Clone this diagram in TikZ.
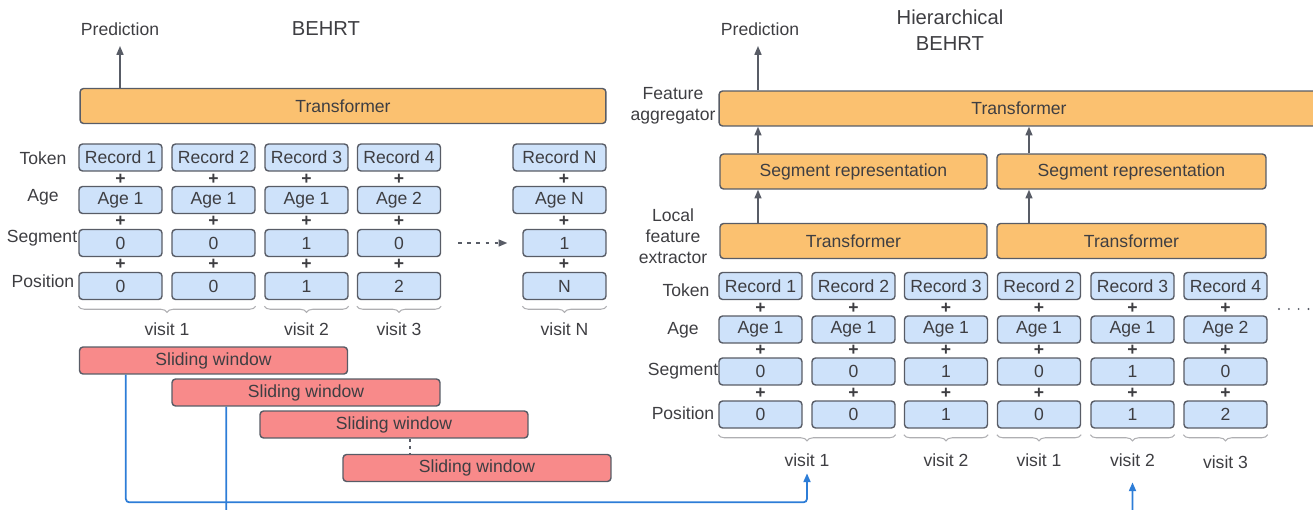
\documentclass[tikz,border=0pt]{standalone}
\usepackage{fontspec}
\setmainfont{Liberation Sans}
\usetikzlibrary{arrows.meta,calc,decorations.pathreplacing}

\definecolor{boxline}{RGB}{88,92,102}
\definecolor{tfill}{RGB}{251,193,112}
\definecolor{recfill}{RGB}{206,226,250}
\definecolor{winfill}{RGB}{248,138,138}
\definecolor{linkblue}{RGB}{45,125,215}
\definecolor{txt}{RGB}{62,62,66}
\definecolor{bracegray}{RGB}{175,175,178}

\tikzset{
  tbox/.style={draw=boxline, fill=tfill, rounded corners=2pt, line width=0.8pt, minimum height=0.7cm, inner sep=0pt},
  rec/.style={draw=boxline, fill=recfill, rounded corners=2pt, line width=0.8pt, minimum width=1.66cm, minimum height=0.54cm, inner sep=0pt},
  win/.style={draw=boxline, fill=winfill, rounded corners=2pt, line width=0.8pt, minimum width=5.36cm, minimum height=0.54cm, inner sep=0pt},
  arr/.style={-{Triangle[length=5pt,width=4pt]}, draw=boxline, line width=0.8pt},
  bluelink/.style={-{Triangle[length=5pt,width=4pt]}, draw=linkblue, line width=1pt, rounded corners=2pt},
  visitbrace/.style={draw=bracegray, line width=0.6pt, decorate, decoration={brace, mirror, amplitude=3.5pt}},
  plus/.style={inner sep=0pt, font=\fontsize{10}{12}\selectfont\bfseries},
  titlefont/.style={font=\fontsize{11.5}{14.7}\selectfont}
}

\begin{document}
\begin{tikzpicture}[x=0.02cm, y=-0.02cm, font=\fontsize{10}{12}\selectfont, text=txt]
\useasboundingbox (0,0) rectangle (1313,510);
\clip (0,0) rectangle (1313,510);

% BEHRT
\node (lpred) at (120,29) {Prediction};
\node[titlefont] (ltitle) at (326,29) {BEHRT};
\node[tbox, minimum width=10.52cm] (ltrans) at (343,106) {Transformer};
\coordinate (lpredtip) at (120,46);
\draw[arr] (ltrans.north -| lpredtip) -- (lpredtip);

\node (ltok) at (43,158) {Token};
\node (lage) at (43,197) {Age};
\node (lseg) at (42,238) {Segment};
\node (lpos) at (43,281) {Position};

\foreach \n/\x/\rec/\age/\seg/\pos in {1/120.5/Record 1/Age 1/0/0, 2/213.5/Record 2/Age 1/0/0,
    3/306.5/Record 3/Age 1/1/1, 4/399/Record 4/Age 2/0/2}{
  \node[rec] (lt\n) at (\x,157.5) {\rec};
  \node[rec] (la\n) at (\x,200) {\age};
  \node[rec] (ls\n) at (\x,243) {\seg};
  \node[rec] (lp\n) at (\x,286) {\pos};
  \node[plus] (lpa\n) at (\x,179) {+};
  \node[plus] (lpb\n) at (\x,221) {+};
  \node[plus] (lpc\n) at (\x,264) {+};
}
\node[rec, minimum width=1.86cm] (ltN) at (559.5,157.5) {Record N};
\node[rec, minimum width=1.86cm] (laN) at (559.5,200) {Age N};
\node[rec] (lsN) at (564.5,243) {1};
\node[rec] (lpN) at (564.5,286) {N};
\node[plus] (lpaN) at (564,179) {+};
\node[plus] (lpbN) at (564,221) {+};
\node[plus] (lpcN) at (564,264) {+};
\draw[arr, dash pattern=on 2pt off 3.2pt, shorten <=0.34cm, shorten >=0.3cm] (ls4.east) -- (lsN.west);

\draw[visitbrace] ($(lp1.south west)+(0,6)$) -- ($(lp2.south east)+(0,6)$);
\draw[visitbrace] ($(lp3.south west)+(0,6)$) -- ($(lp3.south east)+(0,6)$);
\draw[visitbrace] ($(lp4.south west)+(0,6)$) -- ($(lp4.south east)+(0,6)$);
\draw[visitbrace] ($(lpN.south west)+(0,6)$) -- ($(lpN.south east)+(0,6)$);
\node (lv1) at ($(lp1.south west)!0.5!(lp2.south east)+(0,29)$) {visit 1};
\node (lv2) at ($(lp3.south)+(0,29)$) {visit 2};
\node (lv3) at ($(lp4.south)+(0,29)$) {visit 3};
\node (lvN) at ($(lpN.south)+(0,29)$) {visit N};

% sliding windows
\node[win] (sw1) at (213.5,360.5) {Sliding window};
\node[win] (sw2) at (306,392.5) {Sliding window};
\node[win] (sw3) at (394,424.5) {Sliding window};
\node[win] (sw4) at (477,468) {Sliding window};
\coordinate (swgap) at (410,446);
\draw[boxline, line width=0.8pt, dash pattern=on 2pt off 2pt] (swgap |- sw3.south) -- (swgap |- sw4.north);

% Hierarchical BEHRT
\node (rpred) at (760,29) {Prediction};
\node[titlefont, align=center] (rtitle) at (950,30) {Hierarchical\\BEHRT};
\node[tbox, minimum width=12cm] (rtop) at (1019,108.5) {Transformer};
\coordinate (rpredtip) at (758,46);
\draw[arr] (rtop.north -| rpredtip) -- (rpredtip);
\node[align=center] (ragg) at (673,106) {Feature\\aggregator};

\node[tbox, minimum width=5.34cm] (rseg1) at (853.5,171.5) {Segment representation};
\node[tbox, minimum width=5.38cm] (rseg2) at (1131.5,171.5) {Segment representation};
\node[tbox, minimum width=5.34cm] (rloc1) at (853.5,241) {Transformer};
\node[tbox, minimum width=5.38cm] (rloc2) at (1131.5,241) {Transformer};
\node[align=center] (rext) at (673,236) {Local\\feature\\extractor};

\coordinate (rup1) at (758,0);
\coordinate (rup2) at (1029,0);
\draw[arr] (rseg1.north -| rup1) -- (rtop.south -| rup1);
\draw[arr] (rseg2.north -| rup2) -- (rtop.south -| rup2);
\draw[arr] (rloc1.north -| rup1) -- (rseg1.south -| rup1);
\draw[arr] (rloc2.north -| rup2) -- (rseg2.south -| rup2);

\node (rtok) at (686,290) {Token};
\node (rage) at (683,330) {Age};
\node (rsegl) at (683,371) {Segment};
\node (rpos) at (683,413) {Position};

\foreach \n/\x/\rec/\age/\seg/\pos in {1/760.5/Record 1/Age 1/0/0, 2/853.5/Record 2/Age 1/0/0,
    3/946/Record 3/Age 1/1/1, 4/1039/Record 2/Age 1/0/0, 5/1132.5/Record 3/Age 1/1/1,
    6/1225.5/Record 4/Age 2/0/2}{
  \node[rec] (rt\n) at (\x,286) {\rec};
  \node[rec] (ra\n) at (\x,329.5) {\age};
  \node[rec] (rs\n) at (\x,371.5) {\seg};
  \node[rec] (rp\n) at (\x,414.5) {\pos};
  \node[plus] (rpa\n) at (\x,308) {+};
  \node[plus] (rpb\n) at (\x,350.5) {+};
  \node[plus] (rpc\n) at (\x,393) {+};
}
\coordinate (rdots1) at (1279,309);
\coordinate (rdots2) at (1313,309);
\draw[boxline, line width=1.2pt, line cap=round, dash pattern=on 0pt off 5.6pt] (rdots1) -- (rdots2);

\draw[visitbrace] ($(rp1.south west)+(0,6)$) -- ($(rp2.south east)+(0,6)$);
\foreach \n in {3,4,5,6}
  \draw[visitbrace] ($(rp\n.south west)+(0,6)$) -- ($(rp\n.south east)+(0,6)$);
\node (rv1) at ($(rp1.south west)!0.5!(rp2.south east)+(0,32)$) {visit 1};
\node (rv3) at ($(rp3.south)+(0,32)$) {visit 2};
\node (rv4) at ($(rp4.south)+(0,32)$) {visit 1};
\node (rv5) at ($(rp5.south)+(0,32)$) {visit 2};
\node (rv6) at ($(rp6.south)+(0,34)$) {visit 3};

% windows to segments
\draw[bluelink] ($(sw1.south west)+(47,0)$) |- ($(rv1.south)+(0,29)$) -- (rv1.south);
\draw[bluelink, shorten >=0.18cm] ($(sw2.south west)+(55,0)$) |- ($(rv5.south)+(0,70)$) -- (rv5.south);
\end{tikzpicture}
\end{document}
